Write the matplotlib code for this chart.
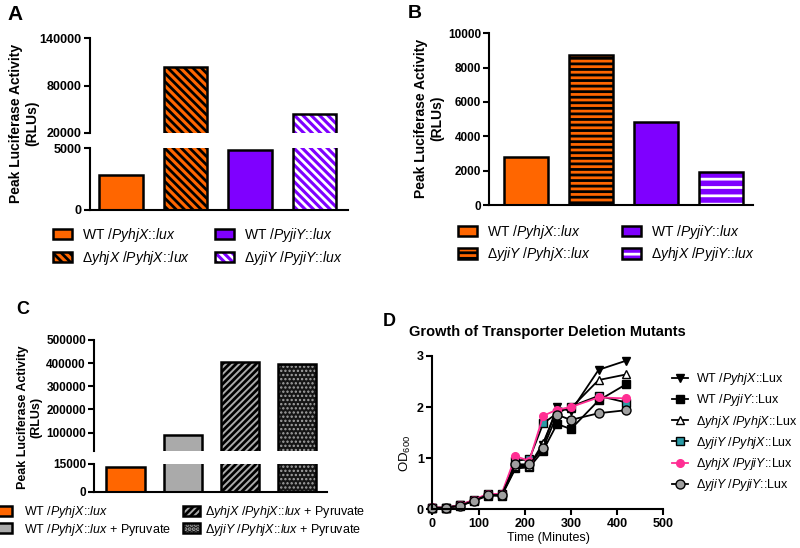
import matplotlib
matplotlib.use("Agg")
import matplotlib.pyplot as plt
from matplotlib.patches import Patch

plt.rcParams['font.family'] = 'Liberation Sans'
plt.rcParams['mathtext.fontset'] = 'custom'
plt.rcParams['mathtext.rm'] = 'Liberation Sans'
plt.rcParams['mathtext.it'] = 'Liberation Sans:italic'
plt.rcParams['mathtext.bf'] = 'Liberation Sans:bold'
plt.rcParams['hatch.linewidth'] = 2.0

# ---------------- data ----------------
A_labels = [r'WT $\mathit{/PyhjX}$::$\mathit{lux}$',
            r'$\mathit{ΔyhjX\ /PyhjX}$::$\mathit{lux}$',
            r'WT $\mathit{/PyjiY}$::$\mathit{lux}$',
            r'$\mathit{ΔyjiY\ /PyjiY}$::$\mathit{lux}$']
A_values = [2850, 104000, 4900, 44000]
A_top_ticks = [20000, 80000, 140000]
A_bot_ticks = [0, 5000]

B_labels = [r'WT $\mathit{/PyhjX}$::$\mathit{lux}$',
            r'$\mathit{ΔyjiY\ /PyhjX}$::$\mathit{lux}$',
            r'WT $\mathit{/PyjiY}$::$\mathit{lux}$',
            r'$\mathit{ΔyhjX\ /PyjiY}$::$\mathit{lux}$']
B_values = [2800, 8750, 4850, 1950]
B_ticks = [0, 2000, 4000, 6000, 8000, 10000]

C_labels = [r'WT $\mathit{/PyhjX}$::$\mathit{lux}$',
            r'WT $\mathit{/PyhjX}$::$\mathit{lux}$ + Pyruvate',
            r'$\mathit{ΔyhjX\ /PyhjX}$::$\mathit{lux}$ + Pyruvate',
            r'$\mathit{ΔyjiY\ /PyhjX}$::$\mathit{lux}$ + Pyruvate']
C_values = [13500, 90000, 407000, 397000]
C_top_ticks = [100000, 200000, 300000, 400000, 500000]
C_bot_ticks = [0, 15000]

D_time = [0, 30, 60, 90, 120, 150, 180, 210, 240, 270, 300, 360, 420]
D_labels = [r'WT $\mathit{/PyhjX}$::Lux',
            r'WT $\mathit{/PyjiY}$::Lux',
            r'$\mathit{ΔyhjX\ /PyhjX}$::Lux',
            r'$\mathit{ΔyjiY\ /PyhjX}$::Lux',
            r'$\mathit{ΔyhjX\ /PyjiY}$::Lux',
            r'$\mathit{ΔyjiY\ /PyjiY}$::Lux']
D_wt_hjx = [0.03, 0.03, 0.08, 0.17, 0.28, 0.28, 0.82, 0.85, 1.25, 2.00, 1.92, 2.73, 2.91]
D_wt_jiy = [0.03, 0.03, 0.07, 0.16, 0.27, 0.26, 0.80, 0.82, 1.15, 1.67, 1.57, 2.13, 2.45]
D_dhjx_hjx = [0.03, 0.03, 0.08, 0.18, 0.29, 0.28, 0.85, 0.85, 1.30, 1.95, 1.98, 2.53, 2.64]
D_djiy_hjx = [0.03, 0.03, 0.08, 0.18, 0.29, 0.29, 0.95, 0.98, 1.68, 1.88, 2.01, 2.22, 2.09]
D_dhjx_jiy = [0.04, 0.03, 0.08, 0.19, 0.30, 0.30, 1.04, 0.95, 1.83, 1.95, 2.00, 2.19, 2.17]
D_djiy_jiy = [0.03, 0.03, 0.07, 0.17, 0.28, 0.28, 0.88, 0.88, 1.20, 1.85, 1.75, 1.88, 1.94]
D_series = [D_wt_hjx, D_wt_jiy, D_dhjx_hjx, D_djiy_hjx, D_dhjx_jiy, D_djiy_jiy]
D_xticks = [0, 100, 200, 300, 400, 500]
D_yticks = [0, 1, 2, 3]

# ---------------- styles ----------------
ORANGE = '#FF6600'
PURPLE = '#7F00FF'
GRAY = '#AAAAAA'
TEAL = '#2A9BA6'
PINK = '#FF2E93'
CGRAY = '#A0A0A0'
EDGE_LW = 1.8
SPINE_LW = 1.5

# (face, hatch, hatch colour, hatch linewidth)
A_styles = [(ORANGE, None, None, None), (ORANGE, '\\' * 4, 'black', 2.0),
            (PURPLE, None, None, None), (PURPLE, '\\' * 4, 'white', 2.0)]
B_styles = [(ORANGE, None, None, None), (ORANGE, '-' * 3, 'black', 2.0),
            (PURPLE, None, None, None), (PURPLE, '-' * 2, 'white', 2.0)]
C_styles = [(ORANGE, None, None, None), (GRAY, None, None, None),
            (GRAY, '/' * 5, 'black', 2.0), ('#151515', '....', '#A5A5A5', 1.1)]

fig = plt.figure(figsize=(8, 5.48), dpi=100)


def axes_px(l, t, r, b):
    return fig.add_axes([l / 800, 1 - b / 548, (r - l) / 800, (b - t) / 548])


def fx(px):
    return px / 800


def fy(py):
    return 1 - py / 548


def style_axis(ax, bottom=True, fs=8.5):
    for s in ('top', 'right'):
        ax.spines[s].set_visible(False)
    ax.spines['left'].set_linewidth(SPINE_LW)
    ax.spines['bottom'].set_linewidth(SPINE_LW)
    ax.spines['bottom'].set_visible(bottom)
    ax.tick_params(axis='x', bottom=False, labelbottom=False)
    ax.tick_params(axis='y', length=4, width=SPINE_LW, labelsize=fs, pad=2)
    for t in ax.get_yticklabels():
        t.set_fontweight('bold')


def hatched_patch_kwargs(face, hatch, hc):
    return dict(facecolor=face, edgecolor=hc, hatch=hatch, linewidth=0)


def set_hlw(artists, hlw):
    for a in artists:
        if hasattr(a, 'set_hatch_linewidth'):
            a.set_hatch_linewidth(hlw)


def draw_bars(ax, values, styles, width):
    xs = list(range(len(values)))
    for x, v, (face, hatch, hc, hlw) in zip(xs, values, styles):
        if hatch:
            with plt.rc_context({'hatch.linewidth': hlw}):
                bc = ax.bar(x, v, width, **hatched_patch_kwargs(face, hatch, hc))
            set_hlw(bc.patches, hlw)
            ax.bar(x, v, width, facecolor='none', edgecolor='black', linewidth=EDGE_LW)
        else:
            ax.bar(x, v, width, color=face, edgecolor='black', linewidth=EDGE_LW)


def handles_for(styles):
    hs = []
    for face, hatch, hc, hlw in styles:
        if hatch:
            with plt.rc_context({'hatch.linewidth': hlw}):
                p = Patch(**hatched_patch_kwargs(face, hatch, hc))
            set_hlw([p], hlw)
            hs.append((p, Patch(facecolor='none', edgecolor='black', linewidth=EDGE_LW)))
        else:
            hs.append(Patch(facecolor=face, edgecolor='black', linewidth=EDGE_LW))
    return hs


def two_col_legend(handles, labels, x1, x2, ytop, fs, hl, hh, pad1, pad2, ls):
    for (xx, pad, sl) in ((x1, pad1, slice(0, 2)), (x2, pad2, slice(2, 4))):
        fig.legend(handles[sl], labels[sl], loc='upper left',
                   bbox_to_anchor=(fx(xx), fy(ytop)), frameon=False,
                   fontsize=fs, handlelength=hl, handleheight=hh,
                   handletextpad=pad, labelspacing=ls, borderpad=0,
                   borderaxespad=0)


# ---------------- Panel A ----------------
axA_t = axes_px(90, 38.3, 348, 132.7)
axA_b = axes_px(90, 148.3, 348, 210)
for ax in (axA_t, axA_b):
    draw_bars(ax, A_values, A_styles, 0.68)
    ax.set_xlim(-0.48, 3.52)
axA_t.set_ylim(20000, 140000)
axA_t.set_yticks(A_top_ticks)
axA_b.set_ylim(0, 5000)
axA_b.set_yticks(A_bot_ticks)
style_axis(axA_t, bottom=False, fs=9)
style_axis(axA_b, bottom=True, fs=9)
fig.text(fx(24), fy(123), 'Peak Luciferase Activity\n(RLUs)', rotation=90,
         ha='center', va='center', fontsize=10, fontweight='bold', linespacing=1.15)
fig.text(fx(7), fy(14), 'A', fontsize=15, fontweight='bold', ha='left', va='center')
two_col_legend(handles_for(A_styles), A_labels, 53, 215, 226, 10, 1.36, 0.8, 0.7, 0.7, 0.36)

# ---------------- Panel B ----------------
axB = axes_px(489.3, 33.3, 752.7, 205)
draw_bars(axB, B_values, B_styles, 0.67)
axB.set_xlim(-0.56, 3.49)
axB.set_ylim(0, 10000)
axB.set_yticks(B_ticks)
style_axis(axB, bottom=True, fs=8.5)
fig.text(fx(429), fy(118), 'Peak Luciferase Activity\n(RLUs)', rotation=90,
         ha='center', va='center', fontsize=10, fontweight='bold', linespacing=1.15)
fig.text(fx(408), fy(13), 'B', fontsize=14, fontweight='bold', ha='left', va='center')
two_col_legend(handles_for(B_styles), B_labels, 458, 622, 223, 10, 1.36, 0.8, 0.7, 0.7, 0.29)

# ---------------- Panel C ----------------
axC_t = axes_px(94.3, 340, 326.7, 451)
axC_b = axes_px(94.3, 464, 326.7, 491.7)
for ax in (axC_t, axC_b):
    draw_bars(ax, C_values, C_styles, 0.675)
    ax.set_xlim(-0.55, 3.52)
axC_t.set_ylim(20000, 500000)
axC_t.set_yticks(C_top_ticks)
axC_b.set_ylim(0, 15000)
axC_b.set_yticks(C_bot_ticks)
style_axis(axC_t, bottom=False, fs=8.5)
style_axis(axC_b, bottom=True, fs=8.5)
fig.text(fx(30), fy(417), 'Peak Luciferase Activity\n(RLUs)', rotation=90,
         ha='center', va='center', fontsize=9, fontweight='bold', linespacing=1.15)
fig.text(fx(16), fy(310), 'C', fontsize=13, fontweight='bold', ha='left', va='center')
two_col_legend(handles_for(C_styles), C_labels, -5, 182.7, 504.5, 9, 1.35, 0.8, 1.0, 0.4, 0.08)

# ---------------- Panel D ----------------
axD = axes_px(432.3, 356, 663.3, 509.3)
D_marker = ['v', 's', '^', 's', 'o', 'o']
D_face = ['black', 'black', 'white', TEAL, PINK, CGRAY]
D_line = ['black', 'black', 'black', 'black', PINK, 'black']
D_medge = ['black', 'black', 'black', 'black', PINK, 'black']
D_msize = [5.5, 5.5, 6, 6, 5.5, 6.5]
for ys, lab, m, fc, lc, me, ms in zip(D_series, D_labels, D_marker, D_face,
                                      D_line, D_medge, D_msize):
    axD.plot(D_time, ys, color=lc, linewidth=1.3, marker=m, markersize=ms,
             markerfacecolor=fc, markeredgecolor=me, markeredgewidth=1.0,
             label=lab, clip_on=False)
axD.set_xlim(0, 500)
axD.set_ylim(0, 3)
axD.set_xticks(D_xticks)
axD.set_yticks(D_yticks)
for s in ('top', 'right'):
    axD.spines[s].set_visible(False)
for s in ('left', 'bottom'):
    axD.spines[s].set_linewidth(SPINE_LW)
axD.tick_params(length=4, width=SPINE_LW, labelsize=9, pad=2)
for t in axD.get_xticklabels() + axD.get_yticklabels():
    t.set_fontweight('bold')
fig.text(fx(547.3), fy(331.7), 'Growth of Transporter Deletion Mutants',
         ha='center', va='center', fontsize=10.5, fontweight='bold')
fig.text(fx(548), fy(538.3), 'Time (Minutes)', ha='center', va='center', fontsize=9)
fig.text(fx(405), fy(453), r'OD$_{600}$', rotation=90, ha='center', va='center', fontsize=9.5)
fig.text(fx(383), fy(322), 'D', fontsize=13, fontweight='bold', ha='left', va='center')
h, l = axD.get_legend_handles_labels()
fig.legend(h, l, loc='upper left', bbox_to_anchor=(fx(672), fy(371)), frameon=False,
           fontsize=9, handlelength=1.3, handletextpad=0.6, labelspacing=0.42,
           borderpad=0, borderaxespad=0)

fig.savefig('out.png', dpi=100)
